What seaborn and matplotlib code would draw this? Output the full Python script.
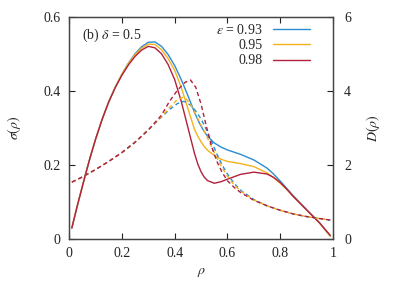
import numpy as np
import pandas as pd
import seaborn as sns
import matplotlib
matplotlib.use("Agg")
import matplotlib.pyplot as plt

# valores
eps_labels = ["0.93", "0.95", "0.98"]
colores = ["#2a8cd4", "#f3b21c", "#b1203d"]

rho = [0.01, 0.03, 0.06, 0.08, 0.1, 0.125, 0.15, 0.175, 0.2, 0.225, 0.25, 0.275, 0.3,
       0.325, 0.35, 0.375, 0.4, 0.425, 0.45, 0.475, 0.4875, 0.5, 0.5125, 0.525, 0.55,
       0.575, 0.6, 0.65, 0.7, 0.75, 0.775, 0.8, 0.825, 0.85, 0.9, 0.95, 0.99]

sigma_093 = [0.030, 0.088, 0.170, 0.222, 0.270, 0.324, 0.371, 0.411, 0.446, 0.476, 0.501, 0.520, 0.532,
             0.533, 0.521, 0.499, 0.469, 0.431, 0.388, 0.343, 0.323, 0.305, 0.290, 0.278, 0.260,
             0.249, 0.241, 0.229, 0.214, 0.192, 0.176, 0.157, 0.137, 0.117, 0.080, 0.044, 0.008]
sigma_095 = [0.030, 0.088, 0.170, 0.222, 0.270, 0.324, 0.371, 0.411, 0.446, 0.475, 0.499, 0.516, 0.527,
             0.526, 0.512, 0.488, 0.456, 0.410, 0.353, 0.297, 0.278, 0.263, 0.250, 0.240, 0.226,
             0.216, 0.210, 0.204, 0.196, 0.179, 0.166, 0.151, 0.134, 0.115, 0.079, 0.043, 0.008]
sigma_098 = [0.030, 0.088, 0.170, 0.222, 0.270, 0.324, 0.371, 0.410, 0.443, 0.471, 0.494, 0.511, 0.521,
             0.517, 0.501, 0.472, 0.431, 0.372, 0.302, 0.232, 0.203, 0.182, 0.167, 0.158, 0.151,
             0.155, 0.162, 0.175, 0.181, 0.176, 0.167, 0.153, 0.135, 0.115, 0.079, 0.043, 0.010]

rho_d = [0.01, 0.05, 0.1, 0.15, 0.2, 0.25, 0.3, 0.35, 0.38, 0.41, 0.43, 0.44, 0.46, 0.48, 0.5,
         0.52, 0.54, 0.56, 0.58, 0.6, 0.625, 0.65, 0.7, 0.75, 0.8, 0.85, 0.9, 0.95, 0.99]

D_093 = [1.54, 1.68, 1.88, 2.10, 2.34, 2.62, 2.95, 3.30, 3.50, 3.66, 3.72, 3.71, 3.62, 3.46, 3.25,
         2.96, 2.63, 2.30, 2.00, 1.76, 1.51, 1.32, 1.07, 0.90, 0.78, 0.68, 0.61, 0.555, 0.515]
D_095 = [1.54, 1.68, 1.88, 2.10, 2.34, 2.62, 2.95, 3.31, 3.55, 3.77, 3.83, 3.82, 3.64, 3.36, 3.08,
         2.80, 2.49, 2.19, 1.93, 1.70, 1.47, 1.30, 1.06, 0.90, 0.78, 0.68, 0.61, 0.555, 0.515]
D_098 = [1.54, 1.68, 1.88, 2.10, 2.34, 2.62, 2.95, 3.35, 3.72, 4.02, 4.17, 4.24, 4.30, 4.10, 3.65,
         3.05, 2.50, 2.10, 1.80, 1.58, 1.40, 1.26, 1.05, 0.90, 0.78, 0.68, 0.61, 0.555, 0.515]

sigmas = [sigma_093, sigma_095, sigma_098]
Ds = [D_093, D_095, D_098]

sns.set_style("ticks")
plt.rcParams["font.family"] = ["Liberation Serif", "DejaVu Serif"]
plt.rcParams["mathtext.fontset"] = "stix"
plt.rcParams["font.size"] = 10

fig = plt.figure(figsize=(4.07, 2.85), dpi=100)
ax = fig.add_axes([0.170, 0.161, 0.648, 0.779])
ax2 = ax.twinx()

for i in range(3):
    etiqueta = r"$\varepsilon$ = " + eps_labels[i] if i == 0 else eps_labels[i]
    sns.lineplot(x=rho, y=sigmas[i], ax=ax, color=colores[i], linewidth=1.0, label=etiqueta)
    sns.lineplot(x=rho_d, y=Ds[i], ax=ax2, color=colores[i], linewidth=1.0,
                 linestyle=(0, (3, 2.2)), legend=False)

ax.set_xlim(0, 1)
ax.set_ylim(0, 0.6)
ax2.set_ylim(0, 6)
ax.set_xticks([0, 0.2, 0.4, 0.6, 0.8, 1])
ax.set_xticklabels(["0", "0.2", "0.4", "0.6", "0.8", "1"])
ax.set_yticks([0, 0.2, 0.4, 0.6])
ax.set_yticklabels(["0", "0.2", "0.4", "0.6"])
ax2.set_yticks([0, 2, 4, 6])
ax2.set_yticklabels(["0", "2", "4", "6"])

ax.tick_params(direction="in", top=True, length=4, width=0.8, pad=6, colors="#222222")
ax2.tick_params(direction="in", length=4, width=0.8, pad=8, colors="#222222")
for a in (ax, ax2):
    for s in a.spines.values():
        s.set_visible(True)
        s.set_color("#444444")
        s.set_linewidth(0.9)

ax.set_xlabel(r"$\rho$", labelpad=4)
ax.set_ylabel(r"$\sigma(\rho)$", labelpad=15)
ax2.set_ylabel(r"$D(\rho)$", labelpad=9)

ax.text(0.05, 0.92, r"(b) $\delta$ = 0.5", transform=ax.transAxes, fontsize=10,
        ha="left", va="center")

leg = ax.legend(loc="upper right", bbox_to_anchor=(0.945, 1.01), frameon=False,
                markerfirst=False, handlelength=2.7, handletextpad=0.7,
                labelspacing=0.15, borderaxespad=0.2, fontsize=10)

fig.savefig("out.png", dpi=100)
